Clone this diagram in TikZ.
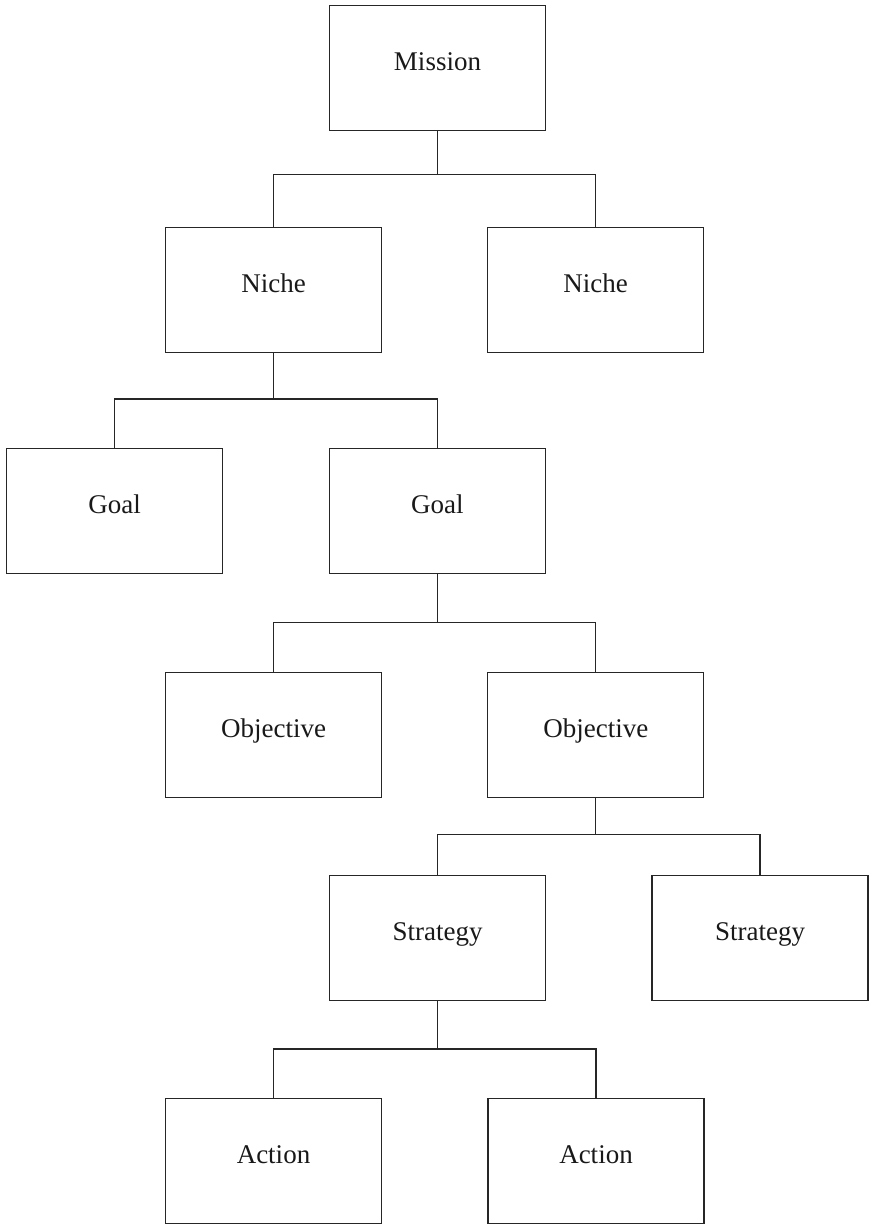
\documentclass[tikz,border=0pt]{standalone}
\usepackage{fontspec}
\setmainfont{Liberation Serif}
\begin{document}
\begin{tikzpicture}[x=1pt,y=-1pt,
  box/.style={draw=black!85, line width=1.1pt, rectangle, anchor=north,
    minimum width=216pt, minimum height=125pt, inner sep=0pt,
    text height=15pt, text depth=10pt, text=black!90,
    font=\fontsize{27}{32}\selectfont},
  conn/.style={draw=black!85, line width=1.1pt}]
\useasboundingbox (0,0) rectangle (870,1224);
% nodes
\node[box] (mission) at (437.5,5) {Mission};
\node[box] (nicheL) at (273.5,226.5) {Niche};
\node[box] (nicheR) at (595.5,226.5) {Niche};
\node[box] (goalL) at (114.7,448) {Goal};
\node[box] (goalR) at (437.3,448) {Goal};
\node[box] (objL) at (273.5,671.5) {Objective};
\node[box] (objR) at (595.8,671.5) {Objective};
\node[box] (stratL) at (437.5,874.5) {Strategy};
\node[box] (stratR) at (760,874.5) {Strategy};
\node[box] (actL) at (273.5,1098) {Action};
\node[box] (actR) at (596,1098) {Action};
% bus coordinates
\coordinate (b1) at (437.5,174.5);
\coordinate (b2) at (273.5,399);
\coordinate (b3) at (437.3,622.5);
\coordinate (b4) at (595.8,834.5);
\coordinate (b5) at (437.5,1049);
% connectors
\draw[conn] (mission.south) -- (b1);
\draw[conn] (nicheL.north) |- (b1) -| (nicheR.north);
\draw[conn] (nicheL.south) -- (b2);
\draw[conn] (goalL.north) |- (b2) -| (goalR.north);
\draw[conn] (goalR.south) -- (b3);
\draw[conn] (objL.north) |- (b3) -| (objR.north);
\draw[conn] (objR.south) -- (b4);
\draw[conn] (stratL.north) |- (b4) -| (stratR.north);
\draw[conn] (stratL.south) -- (b5);
\draw[conn] (actL.north) |- (b5) -| (actR.north);
\end{tikzpicture}
\end{document}
